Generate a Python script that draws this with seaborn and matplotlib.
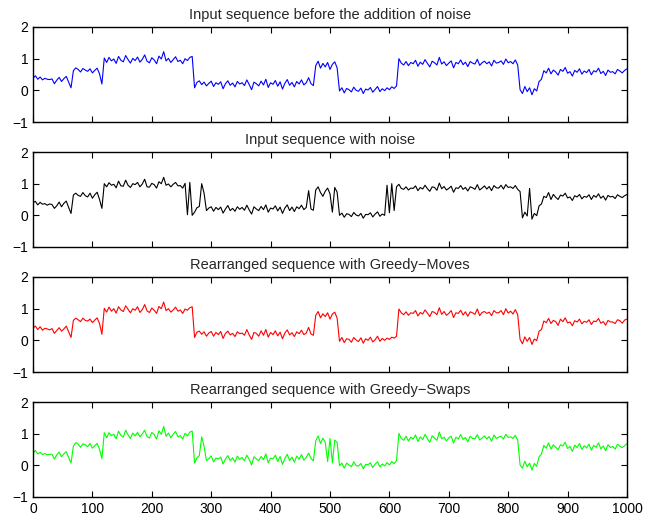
import numpy as np
import pandas as pd
import seaborn as sns
import matplotlib.pyplot as plt

# sample index step used when reading the traces off the picture
step = 4

titles = ['Input sequence before the addition of noise',
          'Input sequence with noise',
          'Rearranged sequence with Greedy\u2212Moves',
          'Rearranged sequence with Greedy\u2212Swaps']
colors = ['#0000ff', '#000000', '#ff0000', '#00ff00']

# values in hundredths, one every 4 samples (0..1000)
clean = [38, 46, 35, 42, 33, 38, 35, 34, 36, 21, 32, 41, 28, 37, 44, 26, 8,
         62, 71, 66, 58, 69, 64, 60, 68, 55, 63, 70, 52, 20,
         102, 88, 104, 93, 99, 85, 107, 95, 90, 110, 97, 86, 101, 94, 105, 89, 98, 112, 92,
         87, 103, 96, 84, 108, 99, 122, 93, 101, 88, 97, 106, 91, 95, 84, 100, 94, 104, 107,
         8, 25, 30, 18, 26, 14, 22, 29, 12, 24, 19, 27, 5, 21, 30, 16, 23, 11, 28, 20, 24, 15,
         33, 18, 2, 26, 21, 14, 29, 17, 35, 9, 24, 19, 31, 13, 27, 4, 22, 34, 16, 25, 11, 28,
         20, 33, 17, 24, 40, 21, 15,
         78, 92, 70, 85, 74, 88, 66, 82, 90, 71,
         -2, 8, -8, 6, 2, -5, 10, 0, -3, 7, -10, 4, 1, 9, -6, 3, 12, -4, 5, -1, 8, 2, 11, 6, 14,
         100, 86, 80, 91, 78, 88, 84, 95, 76, 89, 82, 97, 85, 74, 92, 87, 80, 104, 83, 90, 78,
         86, 93, 71, 88, 84, 96, 81, 89, 75, 91, 86, 83, 98, 79, 87, 92, 84, 90, 77, 95, 86,
         88, 93, 82, 99, 87, 91, 84, 96, 80,
         2, -10, 12, -4, 8, -14, 5, -2, 28, 35,
         62, 55, 70, 52, 64, 58, 48, 66, 60, 72, 54, 59, 45, 63, 57, 68, 51, 61, 56, 66, 49,
         62, 58, 70, 53, 60, 47, 64, 57, 59, 52, 66, 61, 55, 63, 68]

noisy = [40, 44, 33, 41, 35, 37, 32, 36, 34, 22, 30, 42, 27, 38, 45, 25, 6,
         64, 70, 63, 60, 72, 62, 58, 70, 54, 65, 73, 50, 22,
         100, 90, 103, 95, 98, 87, 108, 93, 92, 111, 95, 88, 100, 97, 104, 90, 99, 114, 90,
         89, 101, 97, 86, 106, 100, 120, 95, 99, 90, 98, 104, 93, 94, 86, 101, 2, 104, 0,
         10, 24, 28, 100, 70, 15, 23, 27, 13, 25, 18, 26, 7, 20, 31, 15, 22, 13, 27, 19, 25, 16,
         32, 17, 4, 27, 20, 15, 28, 18, 33, 10, 23, 20, 30, 14, 26, 6, 23, 33, 15, 26, 12, 27,
         21, 32, 18, 25, 78, 20, 16,
         80, 90, 72, 60, 76, 86, 68, 10, 88, 73,
         0, 7, -6, 5, 3, -4, 9, 1, -2, 6, -9, 3, 2, 8, -5, 4, 11, -3, 4, 0, 95, 8, 100, 15, 90,
         98, 85, 82, 90, 80, 86, 85, 93, 78, 88, 83, 95, 84, 76, 90, 88, 79, 102, 84, 91, 80,
         85, 92, 73, 87, 85, 94, 82, 88, 77, 90, 87, 82, 97, 80, 86, 93, 83, 91, 78, 94, 87,
         86, 95, 83, 97, 88, 90, 85, 94, 82,
         75, -8, 10, -2, 85, -12, 6, -1, 30, 36,
         60, 56, 72, 50, 66, 57, 50, 64, 61, 70, 55, 58, 47, 62, 58, 66, 52, 60, 57, 65, 50,
         63, 57, 68, 54, 61, 48, 63, 58, 60, 53, 65, 60, 56, 62, 66]

moves = [39, 45, 34, 43, 32, 38, 36, 33, 37, 22, 31, 40, 29, 36, 45, 27, 9,
         63, 70, 65, 59, 70, 63, 61, 67, 56, 64, 71, 53, 19,
         101, 89, 105, 92, 100, 86, 106, 96, 91, 109, 98, 87, 100, 95, 106, 88, 97, 113, 93,
         88, 102, 95, 85, 107, 100, 121, 94, 100, 89, 96, 105, 92, 96, 85, 99, 95, 103, 106,
         9, 26, 29, 19, 27, 13, 23, 28, 13, 25, 18, 28, 6, 22, 29, 17, 22, 12, 27, 21, 23, 16,
         34, 17, 3, 25, 22, 13, 30, 16, 34, 10, 25, 18, 30, 14, 26, 5, 23, 33, 17, 24, 12, 27,
         21, 32, 18, 23, 41, 20, 16,
         79, 91, 71, 84, 75, 87, 67, 83, 89, 70,
         -3, 9, -7, 5, 3, -6, 9, 1, -4, 8, -9, 5, 0, 10, -5, 2, 13, -3, 6, 0, 7, 3, 10, 7, 13,
         99, 87, 81, 90, 79, 87, 85, 94, 77, 88, 83, 96, 86, 75, 91, 88, 81, 103, 82, 91, 79,
         85, 94, 72, 87, 85, 95, 80, 90, 76, 90, 87, 82, 99, 78, 88, 91, 85, 89, 78, 94, 87,
         87, 94, 81, 100, 86, 92, 83, 97, 81,
         3, -11, 11, -3, 9, -13, 4, -1, 29, 34,
         61, 56, 69, 53, 63, 59, 47, 67, 59, 71, 55, 58, 46, 62, 58, 67, 52, 60, 57, 65, 50,
         61, 59, 69, 54, 59, 48, 63, 58, 58, 53, 65, 62, 54, 64, 67]

swaps = [37, 47, 36, 41, 34, 37, 34, 35, 35, 20, 33, 42, 27, 36, 43, 25, 7,
         61, 72, 67, 57, 68, 65, 59, 69, 54, 62, 69, 51, 21,
         103, 87, 103, 94, 98, 84, 108, 94, 89, 111, 96, 85, 102, 93, 104, 90, 99, 111, 91,
         86, 104, 97, 83, 109, 98, 123, 92, 102, 87, 98, 107, 90, 94, 83, 101, 93, 105, 108,
         7, 24, 31, 90, 60, 15, 21, 30, 11, 23, 20, 26, 4, 20, 31, 15, 24, 10, 29, 19, 25, 14,
         32, 19, 1, 27, 20, 15, 28, 18, 36, 8, 23, 20, 32, 12, 28, 3, 21, 35, 15, 26, 10, 29,
         19, 34, 16, 25, 39, 22, 14,
         77, 93, 69, 86, 73, 12, 85, 8, 80, 72,
         -1, 7, -9, 7, 1, -4, 11, -1, -2, 6, -11, 3, 2, 8, -7, 4, 11, -5, 4, -2, 9, 1, 12, 5, 15,
         101, 85, 79, 92, 77, 89, 83, 96, 75, 90, 81, 98, 84, 73, 93, 86, 79, 105, 84, 89, 77,
         87, 92, 70, 89, 83, 97, 82, 88, 74, 92, 85, 84, 97, 80, 86, 93, 83, 91, 76, 96, 85,
         89, 92, 83, 98, 88, 90, 85, 95, 79,
         1, -9, 13, -5, 7, -15, 6, -3, 27, 36,
         63, 54, 71, 51, 65, 57, 49, 65, 61, 73, 53, 60, 44, 64, 56, 69, 50, 62, 55, 67, 48,
         63, 57, 71, 52, 61, 46, 65, 56, 60, 51, 67, 60, 56, 62, 69]

series = [clean, noisy, moves, swaps]

sns.set_style('ticks')
plt.rcParams['font.family'] = ['Liberation Sans', 'DejaVu Sans']
plt.rcParams['axes.unicode_minus'] = True

fig = plt.figure(figsize=(6.64, 5.18), dpi=100)

for k, (vals, title, col) in enumerate(zip(series, titles, colors)):
    df = pd.DataFrame({'x': np.arange(len(vals)) * step, 'y': np.array(vals) / 100})
    bottom = (518 - (27 + 125 * k + 95)) / 518
    ax = fig.add_axes([33 / 664, bottom, 594 / 664, 95 / 518])
    sns.lineplot(data=df, x='x', y='y', ax=ax, color=col, linewidth=0.8)
    ax.set_xlim(0, 1000)
    ax.set_ylim(-1, 2)
    ax.set_xticks(range(0, 1001, 100))
    ax.set_yticks([-1, 0, 1, 2])
    ax.set_xlabel('')
    ax.set_ylabel('')
    ax.set_title(title, fontsize=10.5, pad=6)
    ax.tick_params(direction='in', top=True, right=True, length=4, width=0.8,
                   labelsize=10, colors='black')
    if k < 3:
        ax.tick_params(labelbottom=False)
    for s in ax.spines.values():
        s.set_visible(True)
        s.set_linewidth(1.0)
        s.set_color('black')

fig.savefig('out.png', dpi=100)
